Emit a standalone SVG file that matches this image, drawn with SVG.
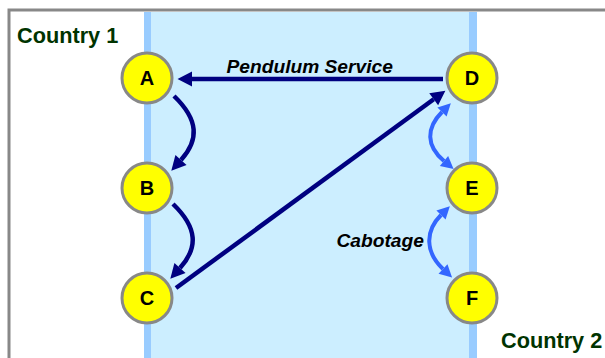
<svg xmlns="http://www.w3.org/2000/svg" width="605" height="358" viewBox="0 0 605 358">
<style>
.node circle{fill:#ffff00;stroke:#888888;stroke-width:3}
.node text{font-family:"Liberation Sans",Arial,sans-serif;font-weight:bold;font-size:20px;fill:#000;text-anchor:middle}
.country{font-family:"Liberation Sans",Arial,sans-serif;font-weight:bold;font-size:21.7px;fill:#003300}
.lbl{font-family:"Liberation Sans",Arial,sans-serif;font-weight:bold;font-style:italic;font-size:19.2px;fill:#000}
.navy{fill:none;stroke:#000080;stroke-width:4.5}
.blue{fill:none;stroke:#3366ff;stroke-width:4}
</style>
<defs>
<marker id="ah" markerUnits="userSpaceOnUse" markerWidth="16" markerHeight="16" refX="0" refY="8" orient="auto" overflow="visible">
<path d="M0,0.5 L14.5,8 L0,15.5 z" fill="#000080"/>
</marker>
<marker id="bh" markerUnits="userSpaceOnUse" markerWidth="14" markerHeight="14" refX="0" refY="7" orient="auto-start-reverse" overflow="visible">
<path d="M0,0.5 L12.5,7 L0,13.5 z" fill="#3366ff"/>
</marker>
</defs>
<rect x="0" y="0" width="605" height="358" fill="#ffffff"/>
<rect x="9" y="10" width="640" height="400" fill="#ffffff" stroke="#888888" stroke-width="3"/>
<rect x="144" y="12" width="333" height="350" fill="#cceeff"/>
<rect x="144" y="12" width="7" height="350" fill="#99ccff"/>
<rect x="469" y="12" width="8" height="350" fill="#99ccff"/>
<text class="country" x="17" y="42.5">Country 1</text>
<text class="country" x="501" y="348">Country 2</text>
<g id="connectors">
<path class="navy" d="M443,79 L192,79" marker-end="url(#ah)"/>
<path class="navy" d="M174,96 C199,120 199,140 181,160" marker-end="url(#ah)"/>
<path class="navy" d="M173,204 C198,228 198,248 180,268" marker-end="url(#ah)"/>
<path class="navy" d="M176,288 L433.7,99.3" marker-end="url(#ah)"/>
<path class="blue" d="M442,112 C426,128 426,146 444,161" marker-start="url(#bh)" marker-end="url(#bh)"/>
<path class="blue" d="M441,215 C425,231 425,252 443,269" marker-start="url(#bh)" marker-end="url(#bh)"/>
<text class="lbl" x="226.5" y="72.5">Pendulum Service</text>
<text class="lbl" x="336.5" y="246.5">Cabotage</text>
</g>
<g id="node-A" class="node"><circle cx="147" cy="78" r="25"/><text x="147" y="85">A</text></g>
<g id="node-B" class="node"><circle cx="147" cy="188" r="25"/><text x="147" y="195">B</text></g>
<g id="node-C" class="node"><circle cx="147" cy="298" r="25"/><text x="147" y="305">C</text></g>
<g id="node-D" class="node"><circle cx="472" cy="78" r="25"/><text x="472" y="85">D</text></g>
<g id="node-E" class="node"><circle cx="472" cy="188" r="25"/><text x="472" y="195">E</text></g>
<g id="node-F" class="node"><circle cx="472" cy="298" r="25"/><text x="472" y="305">F</text></g>
</svg>
